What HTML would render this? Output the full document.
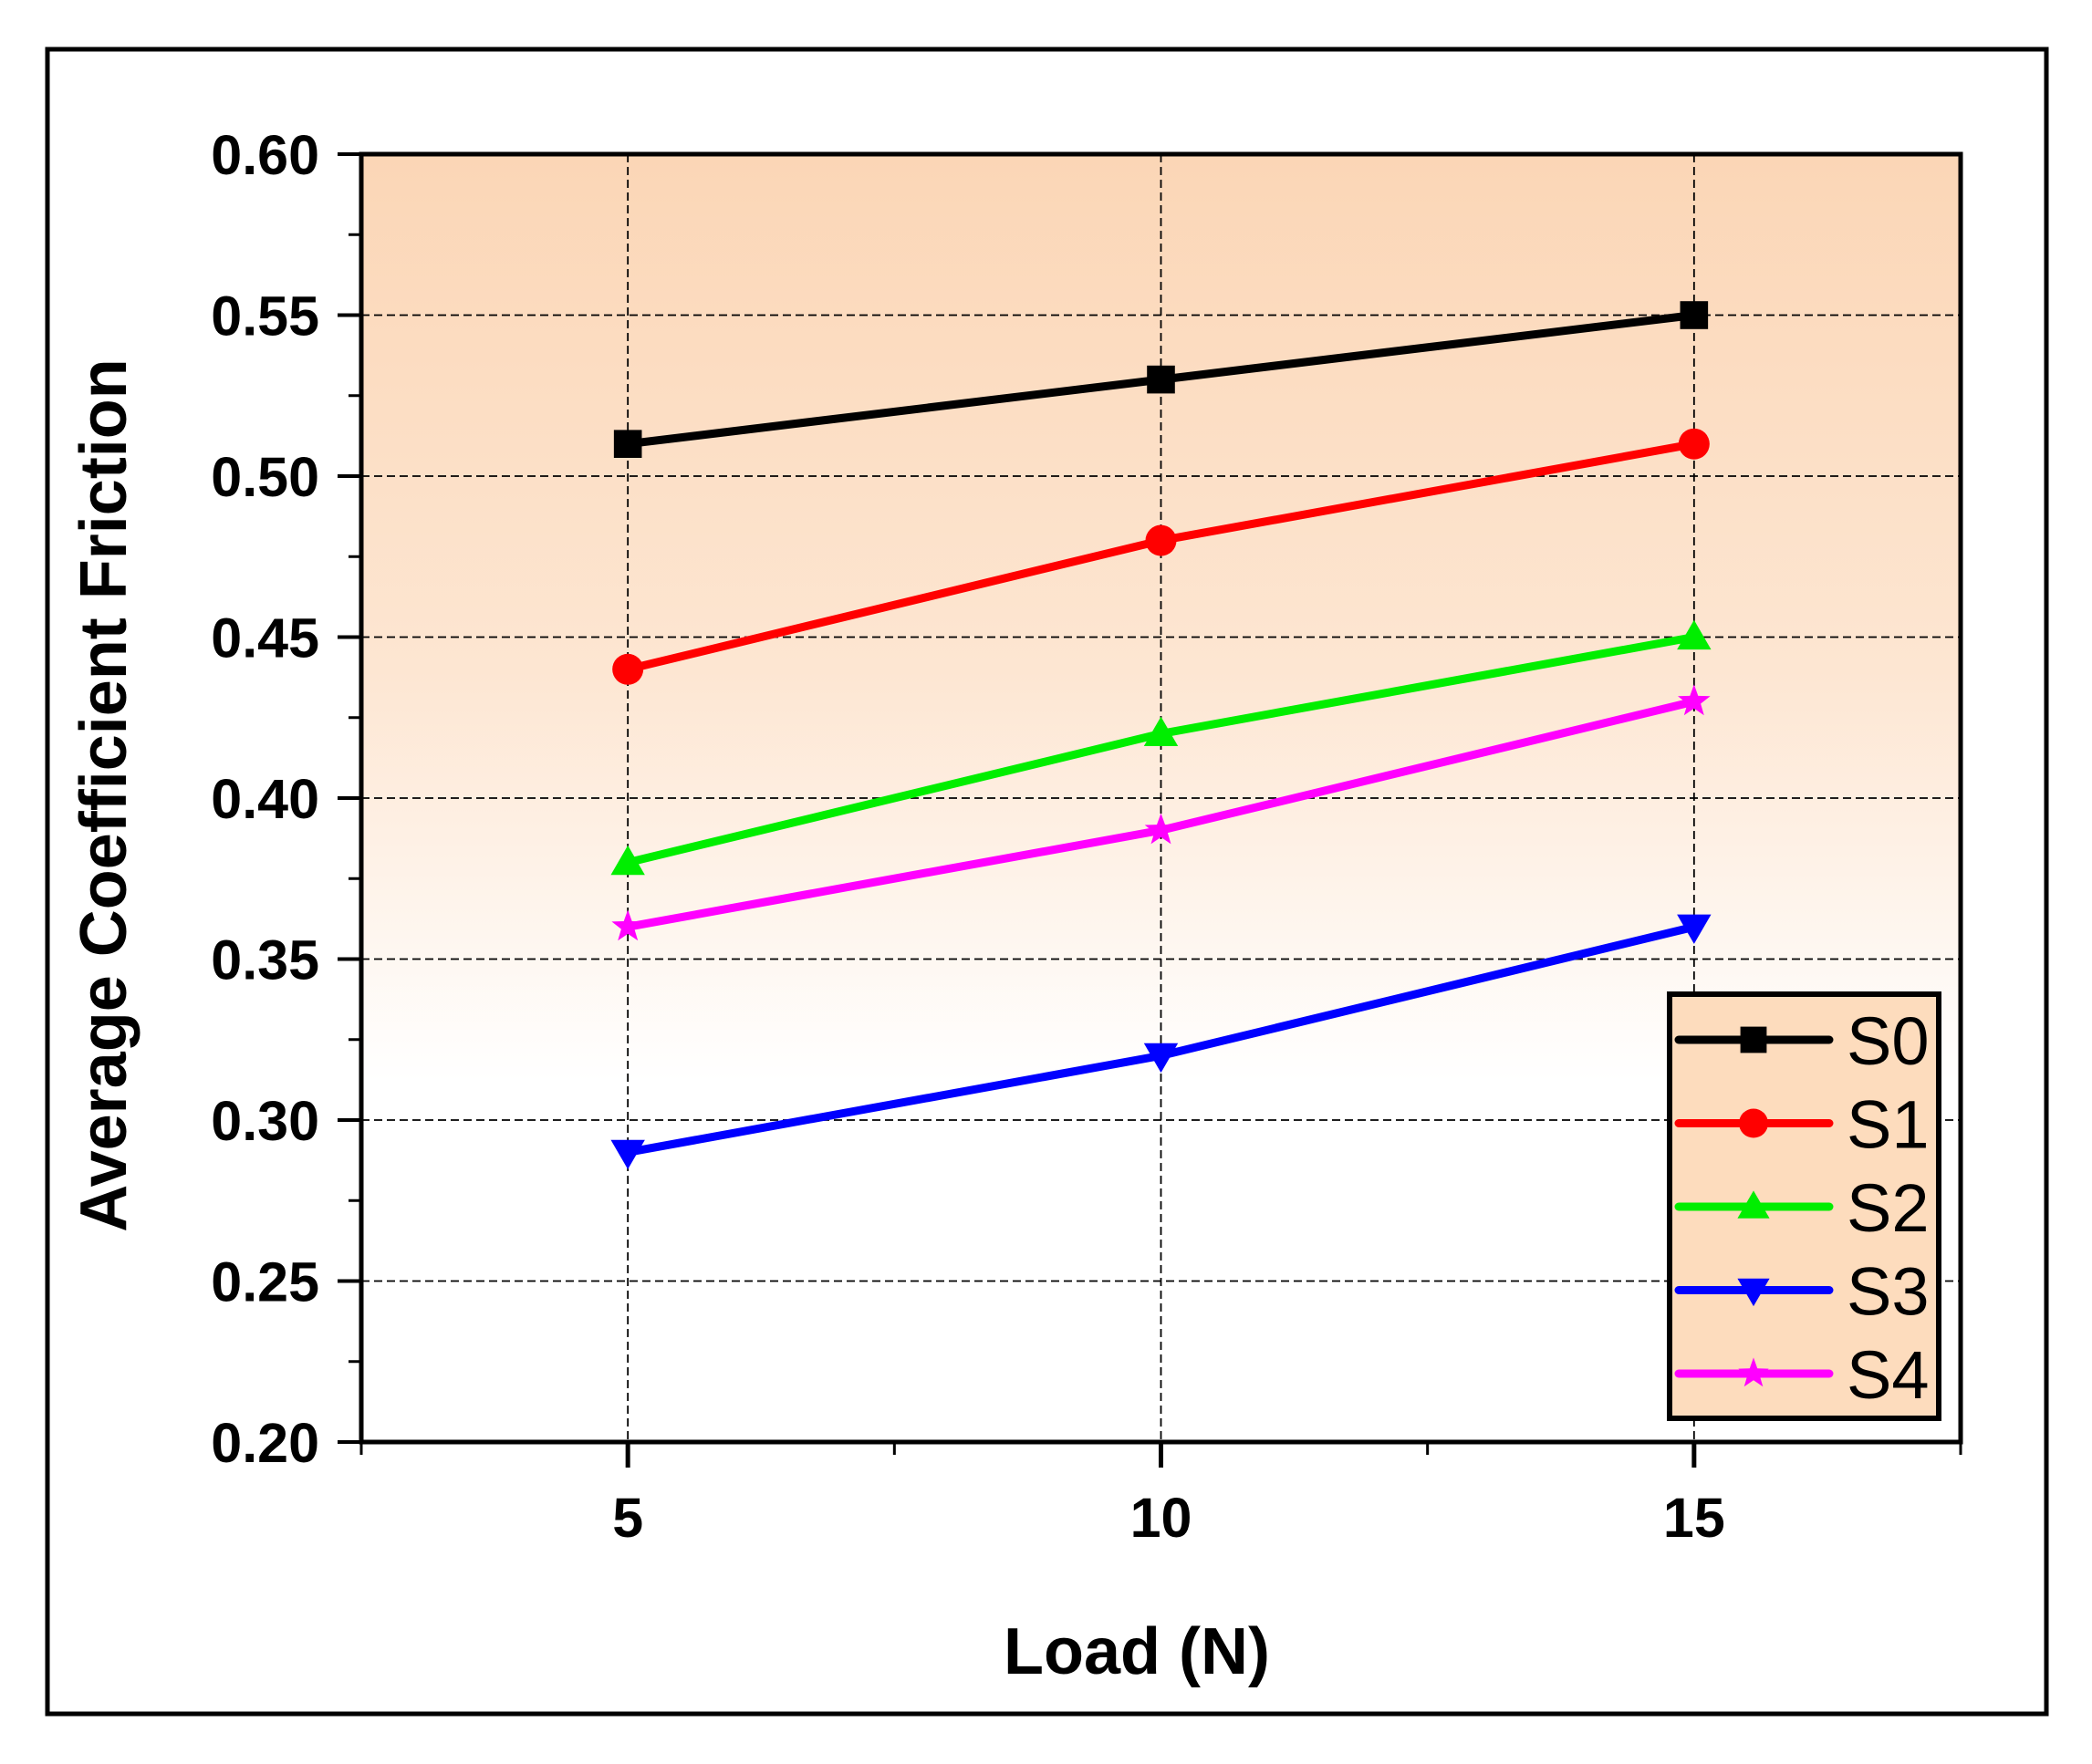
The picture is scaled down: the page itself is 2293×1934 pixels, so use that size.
<!DOCTYPE html>
<html><head><meta charset="utf-8"><style>
html,body{margin:0;padding:0;background:#fff}
svg{display:block}
text{font-family:"Liberation Sans",Arial,sans-serif}
</style></head><body>
<svg id="chart" width="2293" height="1934" viewBox="0 0 2293 1934" xmlns="http://www.w3.org/2000/svg">
<defs>
<linearGradient id="bg" x1="0" y1="0" x2="0" y2="1">
<stop offset="0" stop-color="#fbd6b6"/>
<stop offset="0.4" stop-color="#fde6d2"/>
<stop offset="0.72" stop-color="#ffffff"/>
<stop offset="1" stop-color="#ffffff"/>
</linearGradient>
</defs>
<rect x="52" y="54" width="2191" height="1825" fill="none" stroke="#000" stroke-width="5"/>
<rect x="396" y="169" width="1753" height="1412" fill="url(#bg)"/>
<g id="grid"></g>
<g id="axes"></g>
<g id="series"></g>
<g id="legend"></g>
<text x="1246" y="1835" font-size="72" font-weight="bold" text-anchor="middle">Load (N)</text>
<text transform="translate(138,872) rotate(-90)" font-size="72" font-weight="bold" text-anchor="middle">Average Coefficient Friction</text>
</svg>
<script>
const categories = [5, 10, 15];
const seriesNames = ["S0", "S1", "S2", "S3", "S4"];
const s0 = [0.51, 0.53, 0.55];
const s1 = [0.44, 0.48, 0.51];
const s2 = [0.38, 0.42, 0.45];
const s3 = [0.29, 0.32, 0.36];
const s4 = [0.36, 0.39, 0.43];
const yTicks = ["0.20","0.25","0.30","0.35","0.40","0.45","0.50","0.55","0.60"];
const xTicks = ["5","10","15"];

const NS = "http://www.w3.org/2000/svg";
const L = 396, R = 2149, T = 169, B = 1581;
const xMin = 2.5, xMax = 17.5, yMin = 0.2, yMax = 0.6;
const xs = v => L + (v - xMin) / (xMax - xMin) * (R - L);
const ys = v => B - (v - yMin) / (yMax - yMin) * (B - T);
function mk(tag, attrs, parent) {
  const e = document.createElementNS(NS, tag);
  for (const k in attrs) e.setAttribute(k, attrs[k]);
  parent.appendChild(e);
  return e;
}
const grid = document.getElementById("grid");
const axes = document.getElementById("axes");
yTicks.forEach(t => {
  const y = ys(parseFloat(t));
  if (parseFloat(t) > yMin && parseFloat(t) < yMax) {
    const g = mk("line", {x1: L, x2: R, y1: y, y2: y, stroke: "#000", "stroke-width": 1.8, "stroke-dasharray": "9,5"}, grid);
    
    
  }
  const tk = mk("line", {x1: L - 26, x2: L, y1: y, y2: y, stroke: "#000", "stroke-width": 4}, axes);
  
  
  const lb = mk("text", {x: 350, y: y + 22, "font-size": 61, "font-weight": "bold", "text-anchor": "end"}, axes);
  lb.textContent = t;
  
  
});
for (let i = 0; i < yTicks.length - 1; i++) {
  const y = ys(parseFloat(yTicks[i]) + 0.025);
  const m = mk("line", {x1: L - 14, x2: L, y1: y, y2: y, stroke: "#000", "stroke-width": 3}, axes);
  
  
}
xTicks.forEach(t => {
  const x = xs(parseFloat(t));
  const g = mk("line", {x1: x, x2: x, y1: T, y2: B, stroke: "#000", "stroke-width": 1.8, "stroke-dasharray": "9,5"}, grid);
  
  
  const tk = mk("line", {x1: x, x2: x, y1: B, y2: B + 28, stroke: "#000", "stroke-width": 5}, axes);
  
  
  const lb = mk("text", {x: x, y: 1685, "font-size": 61, "font-weight": "bold", "text-anchor": "middle"}, axes);
  lb.textContent = t;
  
  
});
[2.5, 7.5, 12.5, 17.5].forEach(v => {
  const x = xs(v);
  const m = mk("line", {x1: x, x2: x, y1: B, y2: B + 14, stroke: "#000", "stroke-width": 3}, axes);
  
  
});
const frame = mk("rect", {x: L, y: T, width: R - L, height: B - T, fill: "none", stroke: "#000", "stroke-width": 5}, axes);



const colors = ["#000000", "#ff0000", "#00ee00", "#0000ff", "#ff00ff"];
const shapes = ["square", "circle", "up", "down", "star"];
function marker(shape, cx, cy, color, parent, sz) {
  const s = sz / 2;
  let e;
  if (shape === "square") e = mk("rect", {x: cx - s * 0.9, y: cy - s * 0.9, width: s * 1.8, height: s * 1.8, fill: color}, parent);
  else if (shape === "circle") e = mk("circle", {cx: cx, cy: cy, r: s, fill: color}, parent);
  else if (shape === "up") e = mk("polygon", {points: `${cx},${cy - s * 1.1} ${cx - s * 1.1},${cy + s * 0.8} ${cx + s * 1.1},${cy + s * 0.8}`, fill: color}, parent);
  else if (shape === "down") e = mk("polygon", {points: `${cx},${cy + s * 1.1} ${cx - s * 1.1},${cy - s * 0.8} ${cx + s * 1.1},${cy - s * 0.8}`, fill: color}, parent);
  else {
    let p = [];
    for (let i = 0; i < 10; i++) {
      const a = -Math.PI / 2 + i * Math.PI / 5;
      const r = i % 2 ? s * 0.45 : s * 1.1;
      p.push((cx + r * Math.cos(a)).toFixed(1) + "," + (cy + r * Math.sin(a)).toFixed(1));
    }
    e = mk("polygon", {points: p.join(" "), fill: color}, parent);
  }
  return e;
}
const sg = document.getElementById("series");
[s0, s1, s2, s3, s4].forEach((vals, i) => {
  const pts = vals.map((v, j) => xs(categories[j]).toFixed(1) + "," + ys(v).toFixed(1)).join(" ");
  const pl = mk("polyline", {points: pts, fill: "none", stroke: colors[i], "stroke-width": 9, "stroke-linejoin": "round"}, sg);
  
  
  vals.forEach((v, j) => {
    const m = marker(shapes[i], xs(categories[j]), ys(v), colors[i], sg, 34);
    
    
  });
});
const lg = document.getElementById("legend");
const box = mk("rect", {x: 1830, y: 1090, width: 295, height: 465, fill: "#fddcbd", stroke: "#000", "stroke-width": 6}, lg);


seriesNames.forEach((n, i) => {
  const y = 1140 + i * 91.5;
  const ln = mk("line", {x1: 1840, x2: 2005, y1: y, y2: y, stroke: colors[i], "stroke-width": 9, "stroke-linecap": "round"}, lg);
  
  
  const m = marker(shapes[i], 1922, y, colors[i], lg, 32);
  
  
  const t = mk("text", {x: 2024, y: y + 27, "font-size": 74}, lg);
  t.textContent = n;
  
  
});
</script>
</body></html>
